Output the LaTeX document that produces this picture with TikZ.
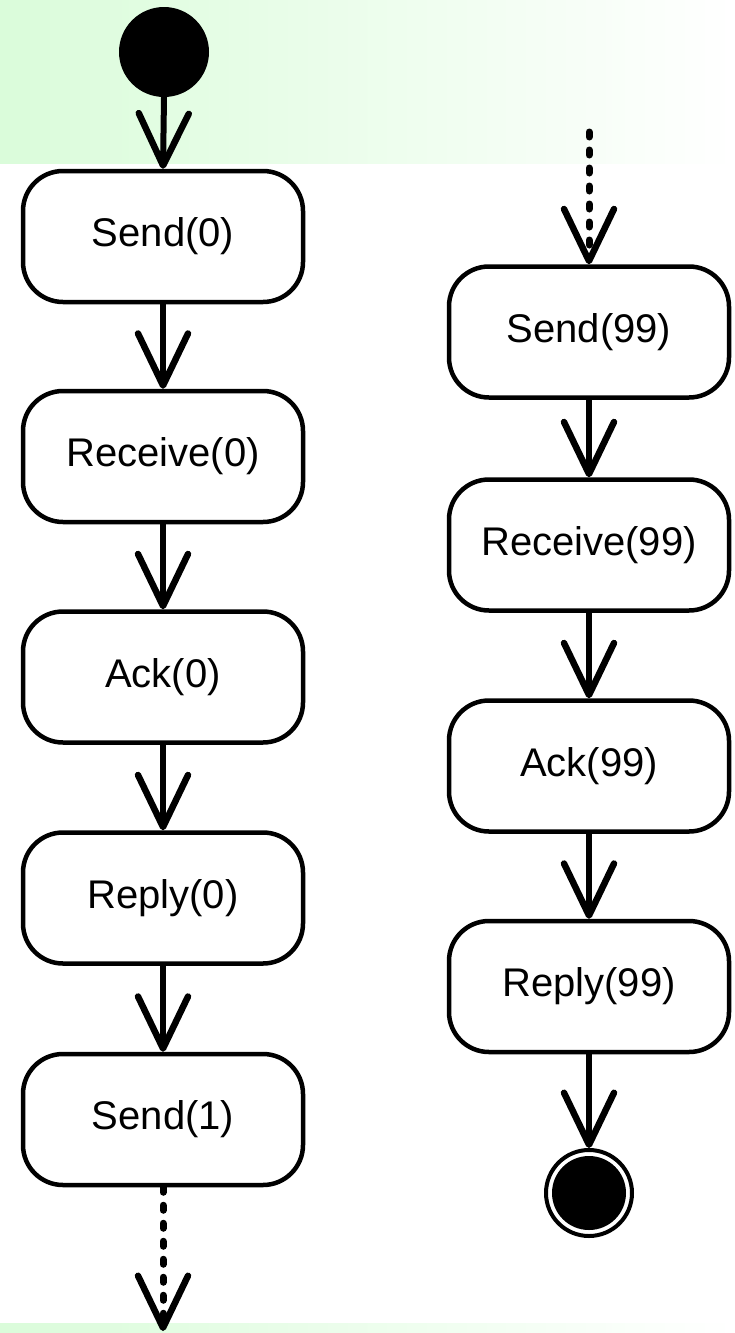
\documentclass[tikz,border=0pt]{standalone}
\usepackage{fontspec}
\setmainfont{Liberation Sans}
\usetikzlibrary{arrows.meta}
\definecolor{bandgreen}{RGB}{218,252,218}
\begin{document}
\begin{tikzpicture}[x=1pt,y=-1pt,
  actbox/.style={draw, line width=4.5pt, rounded corners=40pt, minimum width=280pt,
    minimum height=131pt, inner sep=0pt, font=\fontsize{40}{48}\selectfont},
  flow/.style={line width=6pt, -{Straight Barb[length=52pt,width=50pt,line width=6.5pt,round]}},
  dflow/.style={line width=7pt, line cap=round, dash pattern=on 5pt off 13pt,
    -{Straight Barb[length=52pt,width=50pt,line width=6.5pt,round]}}]
\useasboundingbox (0,0) rectangle (734,1333);
% green bands
\shade[left color=bandgreen, right color=white] (0,0) rectangle (734,163);
\shade[left color=bandgreen, right color=white] (0,1323) rectangle (734,1333);
% left column
\node[circle, fill=black, minimum size=90pt, inner sep=0pt] (init) at (164,52) {};
\node[actbox] (s0) at (163,236.5) {Send(0)};
\node[actbox] (r0) at (163,456.5) {Receive(0)};
\node[actbox] (a0) at (163,677) {Ack(0)};
\node[actbox] (p0) at (163,898) {Reply(0)};
\node[actbox] (s1) at (163,1119.5) {Send(1)};
\coordinate (lend) at (163,1331);
\draw[flow] (init.south) -- (s0.north);
\draw[flow] (s0.south) -- (r0.north);
\draw[flow] (r0.south) -- (a0.north);
\draw[flow] (a0.south) -- (p0.north);
\draw[flow] (p0.south) -- (s1.north);
\draw[dflow] (s1.south) -- (lend);
% right column
\coordinate (rstart) at (589,132);
\node[actbox] (s99) at (589,332) {Send(99)};
\node[actbox] (r99) at (589,545) {Receive(99)};
\node[actbox] (a99) at (589,766) {Ack(99)};
\node[actbox] (p99) at (589,986.5) {Reply(99)};
\node[circle, draw, line width=4pt, fill=white, minimum size=86pt, inner sep=0pt] (fin) at (589,1193) {};
\node[circle, fill=black, minimum size=74pt, inner sep=0pt] (fincore) at (fin.center) {};
\draw[dflow] (rstart) -- (s99.north);
\draw[flow] (s99.south) -- (r99.north);
\draw[flow] (r99.south) -- (a99.north);
\draw[flow] (a99.south) -- (p99.north);
\draw[flow] (p99.south) -- (fin.north);
\end{tikzpicture}
\end{document}
